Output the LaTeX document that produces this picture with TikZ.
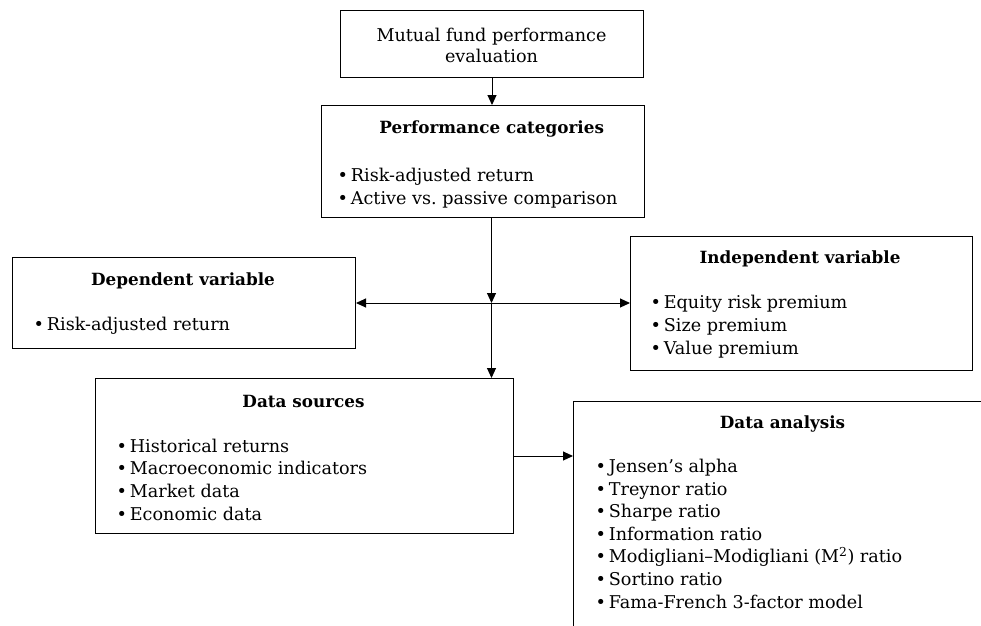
\documentclass[tikz,border=0pt]{standalone}
\usepackage{fontspec}
\setmainfont{DejaVu Serif}
\usetikzlibrary{arrows.meta}
\newcommand{\itm}[1]{\textbullet\hspace{3pt}#1}
\begin{document}
\begin{tikzpicture}[x=1pt, y=-1pt, >={Triangle[length=10pt,width=9pt]}, line width=1pt,
    block/.style={draw, line width=1pt, anchor=north west, inner sep=0pt},
    title/.style={anchor=base, inner sep=0pt, font=\fontsize{16.8}{20}\selectfont\bfseries},
    items/.style={anchor=base west, inner sep=0pt, align=left, font=\fontsize{17.6}{22.6}\selectfont}]
    \clip (0,0) rectangle (981,625);

    % Evaluation
    \node[block, minimum width=303pt, minimum height=67pt] (eval) at (340,10) {};
    \node[anchor=base, align=center, inner sep=0pt, font=\fontsize{17.6}{21}\selectfont] (evalT) at (491.5,62) {Mutual fund performance\\evaluation};

    % Performance categories
    \node[block, minimum width=323pt, minimum height=112pt] (cat) at (321,105) {};
    \node[title] (catT) at (491.7,133) {Performance categories};
    \node[items] (catL) at (337,204) {\itm{Risk-adjusted return}\\\itm{Active vs.\ passive comparison}};

    % Dependent variable
    \node[block, minimum width=343pt, minimum height=91pt] (dep) at (12,257) {};
    \node[title] (depT) at (183,285) {Dependent variable};
    \node[items] (depL) at (33,330) {\itm{Risk-adjusted return}};

    % Independent variable
    \node[block, minimum width=342pt, minimum height=134pt] (ind) at (630,236) {};
    \node[title] (indT) at (800,263) {Independent variable};
    \node[items] (indL) at (650,354) {\itm{Equity risk premium}\\\itm{Size premium}\\\itm{Value premium}};

    % Data sources
    \node[block, minimum width=418pt, minimum height=155pt] (src) at (95,378) {};
    \node[title] (srcT) at (303.5,407) {Data sources};
    \node[items] (srcL) at (116,520) {\itm{Historical returns}\\\itm{Macroeconomic indicators}\\\itm{Market data}\\\itm{Economic data}};

    % Data analysis
    \node[block, minimum width=450pt, minimum height=260pt] (ana) at (573,401) {};
    \node[title] (anaT) at (782.5,428) {Data analysis};
    \node[items] (anaL) at (595,608) {\itm{Jensen’s alpha}\\\itm{Treynor ratio}\\\itm{Sharpe ratio}\\\itm{Information ratio}\\\itm{Modigliani–Modigliani (M\textsuperscript{2}) ratio}\\\itm{Sortino ratio}\\\itm{Fama-French 3-factor model}};

    % Connectors
    \coordinate (junc) at (491.5,303);
    \draw[->] (eval.south) -- (cat.north -| eval.south);
    \draw[->] (cat.south -| junc) -- (junc);
    \draw[->] (junc) -- (dep.east |- junc);
    \draw[->] (junc) -- (ind.west |- junc);
    \draw[->] (junc) -- (src.north -| junc);
    \draw[->] (src.east |- 0,456) -- (ana.west |- 0,456);
\end{tikzpicture}
\end{document}
